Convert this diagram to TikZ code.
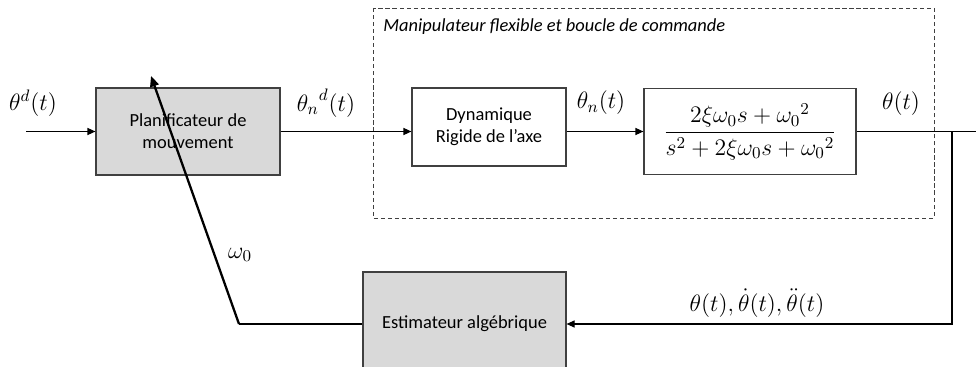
\documentclass[tikz,border=0pt]{standalone}
\usepackage{fix-cm}
\usepackage[no-math]{fontspec}
\newfontfamily\boxfont{Carlito}
\usepackage{xcolor}
\usepackage{tikz}
\usetikzlibrary{arrows.meta, positioning, calc}
\definecolor{blocgray}{HTML}{D9D9D9}
\definecolor{bordgray}{HTML}{404040}

\begin{document}
\begin{tikzpicture}[
  bloc/.style={draw=bordgray, line width=0.7pt, font=\boxfont\fontsize{10.5}{12.5}\selectfont, align=center, inner sep=0pt},
  sig/.style={font=\fontsize{13.5}{16}\selectfont, inner sep=0pt},
  fleche/.style={-{Triangle[length=4.5pt, width=4pt]}, line width=0.6pt},
]
  \path[use as bounding box, clip] (0,0) rectangle (19.52,-7.34);

  % le cadre en pointilles
  \draw[dashed, dash pattern=on 2.4pt off 1.6pt, line width=0.5pt, draw=bordgray] (7.46,-0.16) rectangle (18.68,-4.36);
  \node[anchor=west, inner sep=0pt, font=\boxfont\itshape\fontsize{10.5}{12.5}\selectfont] (titre) at (7.66,-0.54)
    {Manipulateur flexible et boucle de commande};

  % les blocs
  \node[bloc, fill=blocgray, minimum width=3.68cm, minimum height=1.74cm] (plan) at (3.76,-2.63)
    {Planificateur de\\mouvement};
  \node[bloc, minimum width=3.08cm, minimum height=1.56cm] (dyn) at (9.78,-2.54)
    {Dynamique\\Rigide de l’axe};
  \node[bloc, minimum width=4.24cm, minimum height=1.72cm, font=\fontsize{13.5}{16}\selectfont] (ftrans) at (15.0,-2.63)
    {$\displaystyle\frac{2\xi\omega_0 s+{\omega_0}^2}{s^2+2\xi\omega_0 s+{\omega_0}^2}$};
  \node[bloc, fill=blocgray, minimum width=4.06cm, minimum height=2.08cm] (est) at (9.29,-6.48)
    {Estimateur alg\'ebrique};

  \coordinate (entree) at (0.52,-2.63);
  \coordinate (sortie) at (19.6,-2.63);
  \coordinate (prise) at (19.04,-2.63);
  \coordinate (coude) at (4.78,-6.48);
  \coordinate (pointe) at (3.02,-1.52);

  % les liaisons
  \draw[fleche] (entree) -- (plan);
  \draw[fleche] (plan.east) -- (plan.east -| dyn.west);
  \draw[fleche] (dyn.east |- ftrans.west) -- (ftrans.west);
  \draw[line width=0.6pt] (ftrans.east) -- (sortie);
  \draw[fleche] (prise) -- (prise |- est.east) -- (est.east);
  \draw[line width=0.6pt] (est.west) -- (coude);
  \draw[-{Triangle[length=6pt, width=5pt]}, line width=1.3pt] (coude) -- (pointe);

  % les signaux
  \node[sig] (thd) at (0.66,-2.06) {$\theta^d(t)$};
  \node[sig] (thnd) at (6.52,-2.06) {${\theta_n}^d(t)$};
  \node[sig] (thn) at (12.02,-2.06) {$\theta_n(t)$};
  \node[sig] (th) at (18.02,-2.08) {$\theta(t)$};
  \node[sig] (om) at (4.8,-5.1) {$\omega_0$};
  \node[sig] (derivs) at (15.14,-6.06) {$\theta(t),\dot{\theta}(t),\ddot{\theta}(t)$};
\end{tikzpicture}
\end{document}
